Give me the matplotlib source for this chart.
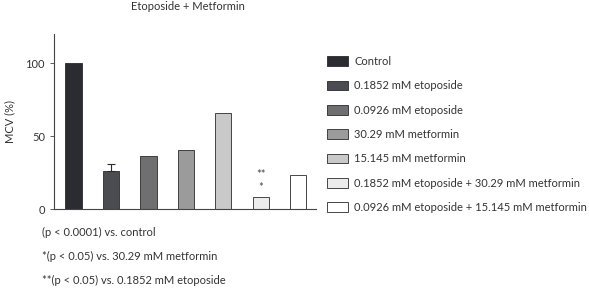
import numpy as np
import matplotlib.pyplot as plt
from matplotlib.patches import Patch

groups = ["Control", "0.1852 mM etoposide", "0.0926 mM etoposide",
          "30.29 mM metformin", "15.145 mM metformin",
          "0.1852 mM etoposide + 30.29 mM metformin",
          "0.0926 mM etoposide + 15.145 mM metformin"]
mcv = [100, 26, 36.5, 40.5, 66, 8.5, 23.5]
err = [0, 5, 0, 0, 0, 0, 0]
colors = ["#2b2c32", "#4b4c51", "#6f6f72", "#9b9b9c", "#c9c9c9", "#ececec", "#ffffff"]
yticks = [0, 50, 100]
notes = ["(p < 0.0001) vs. control",
         "*(p < 0.05) vs. 30.29 mM metformin",
         "**(p < 0.05) vs. 0.1852 mM etoposide"]

plt.rcParams['font.family'] = ['Lato', 'DejaVu Sans']
fs = 8
fig = plt.figure(figsize=(5.89, 2.90), dpi=100)
ax = fig.add_axes([0.0917, 0.2793, 0.4448, 0.6035])

x = np.arange(len(mcv))
ax.bar(x, mcv, width=0.43, color=colors, edgecolor="#2a2a2a", linewidth=0.6)
ax.errorbar(x[1], mcv[1], yerr=[[0], [err[1]]], fmt="none", ecolor="#2a2a2a",
            elinewidth=0.8, capsize=3, capthick=0.8)
# significance marks above the combination bar
ax.text(x[5], 23.5, "**", ha="center", va="center", fontsize=8, color="#444444")
ax.text(x[5], 15, "*", ha="center", va="center", fontsize=8, color="#444444")

ax.set_xlim(-0.52, 6.47)
ax.set_ylim(0, 120)
ax.set_yticks(yticks)
ax.set_xticks([])
ax.tick_params(axis="y", labelsize=fs, length=3, width=0.6, colors="#444444",
               labelcolor="#333333")
for s in ["top", "right"]:
    ax.spines[s].set_visible(False)
for s in ["left", "bottom"]:
    ax.spines[s].set_linewidth(0.8)
    ax.spines[s].set_color("#444444")
ax.set_ylabel("MCV (%)", fontsize=fs, color="#333333", labelpad=7)

fig.text(188 / 589, 1 - 7 / 290, "Etoposide + Metformin", ha="center", va="center",
         fontsize=fs, color="#333333")

handles = [Patch(facecolor=c, edgecolor="#2a2a2a", linewidth=0.6) for c in colors]
fig.legend(handles, groups, loc="upper left", bbox_to_anchor=(327 / 589, 1 - 56 / 290),
           frameon=False, fontsize=fs, handlelength=1.9, handleheight=1.0,
           labelspacing=1.2, handletextpad=0.55, borderpad=0, borderaxespad=0,
           labelcolor="#333333")

for i, n in enumerate(notes):
    fig.text(42 / 589, 1 - (232 + 24 * i) / 290, n, ha="left", va="center",
             fontsize=fs, color="#333333")

fig.savefig("out.png", dpi=100)
